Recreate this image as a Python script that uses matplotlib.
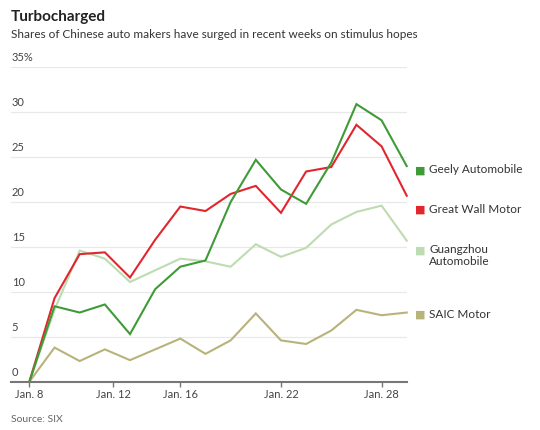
import matplotlib
matplotlib.use("Agg")
import matplotlib.pyplot as plt

plt.rcParams['font.family'] = ['Lato', 'DejaVu Sans']

# trading days, Jan. 8 to Jan. 29
days = list(range(16))
tick_pos = [0, 3.33, 6, 10, 14]
tick_labels = ['Jan. 8', 'Jan. 12', 'Jan. 16', 'Jan. 22', 'Jan. 28']

geely = [0, 8.4, 7.7, 8.6, 5.3, 10.3, 12.8, 13.5, 20.0, 24.7, 21.4, 19.8, 24.4, 30.9, 29.1, 24.0]
great_wall = [0, 9.3, 14.2, 14.4, 11.6, 15.8, 19.5, 19.0, 20.9, 21.8, 18.8, 23.4, 23.9, 28.6, 26.2, 20.7]
guangzhou = [0, 8.0, 14.6, 13.7, 11.1, 12.4, 13.7, 13.4, 12.8, 15.3, 13.9, 14.9, 17.5, 18.9, 19.6, 15.7]
saic = [0, 3.8, 2.3, 3.6, 2.4, 3.6, 4.8, 3.1, 4.6, 7.6, 4.6, 4.2, 5.7, 8.0, 7.4, 7.7]

names = ['Geely Automobile', 'Great Wall Motor', 'Guangzhou\nAutomobile', 'SAIC Motor']
colors = ['#3f9a38', '#e2262e', '#bddcb1', '#b8b37a']
label_y = [23.6, 19.2, 14.6, 7.5]

fig = plt.figure(figsize=(5.4, 4.3), dpi=100)
ax = fig.add_axes([0.0204, 0.1123, 0.7333, 0.7312])

series = [geely, great_wall, guangzhou, saic]
# draw back to front so the dark green sits on top
for s, c in zip(series[::-1], colors[::-1]):
    ax.plot(days, s, color=c, lw=1.5, solid_joinstyle='miter', clip_on=False, zorder=3)

ax.set_xlim(-0.73, 15.01)
ax.set_ylim(0, 35)
ax.set_yticks([])
for v in range(0, 36, 5):
    if v > 0:
        ax.axhline(v, color='#e8e8e8', lw=0.9, zorder=1)
    ax.text(-0.70, v + 0.45, f'{v}%' if v == 35 else str(v), fontsize=8,
            color='#444444', ha='left', va='bottom')

ax.set_xticks(tick_pos)
ax.set_xticklabels(tick_labels, fontsize=8, color='#444444')
ax.tick_params(axis='x', length=3.5, width=1, color='#777777', pad=2)

for sp in ['top', 'right', 'left']:
    ax.spines[sp].set_visible(False)
ax.spines['bottom'].set_color('#777777')
ax.spines['bottom'].set_linewidth(1.5)
ax.spines['bottom'].set_zorder(4)

# labels at the line ends instead of a legend box
for n, c, y in zip(names, colors, label_y):
    ax.text(15.55, y, '\u25a0', color=c, fontsize=8, va='center', ha='center', clip_on=False)
    if '\n' in n:
        ax.text(15.9, y + 0.75, n, color='#333333', fontsize=8.5, va='top',
                ha='left', linespacing=1.1, clip_on=False)
    else:
        ax.text(15.9, y, n, color='#333333', fontsize=8.5, va='center',
                ha='left', clip_on=False)

fig.text(0.0204, 0.952, 'Turbocharged', fontsize=11, fontweight='bold', color='#222222')
fig.text(0.0204, 0.912, 'Shares of Chinese auto makers have surged in recent weeks on stimulus hopes',
         fontsize=8.5, color='#333333')
fig.text(0.0204, 0.018, 'Source: SIX', fontsize=7.5, color='#666666')

fig.savefig('out.png', dpi=100)
